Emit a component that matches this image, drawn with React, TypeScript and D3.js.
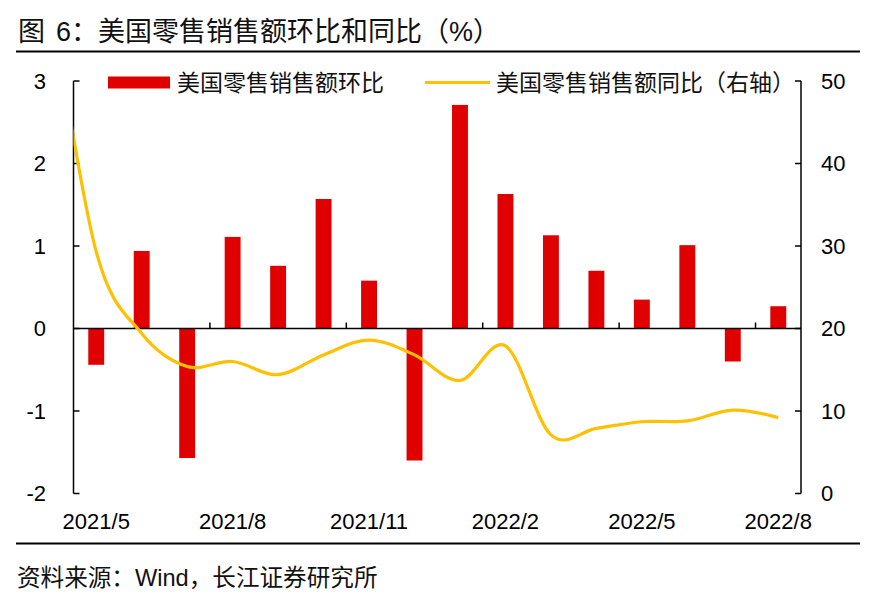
import React, { useEffect, useRef } from 'react';
import * as d3 from 'd3';

const months = [
  '2021/5', '2021/6', '2021/7', '2021/8', '2021/9', '2021/10', '2021/11', '2021/12',
  '2022/1', '2022/2', '2022/3', '2022/4', '2022/5', '2022/6', '2022/7', '2022/8',
];
// 环比 (%), left axis
const momValues = [-0.44, 0.94, -1.57, 1.11, 0.76, 1.57, 0.58, -1.6, 2.71, 1.63, 1.13, 0.7, 0.35, 1.01, -0.4, 0.27];
// 同比 (%), right axis; starts one month earlier, only its tail shows at the left edge
const yoyMonths = ['2021/4', ...months];
const yoyValues = [60, 29.3, 19.4, 15.4, 16.0, 14.4, 16.8, 18.6, 16.8, 13.7, 17.9, 7.1, 7.9, 8.7, 8.8, 10.1, 9.2];

const leftTicks = [-2, -1, 0, 1, 2, 3];
const rightTicks = [0, 10, 20, 30, 40, 50];
const labelMonths = ['2021/5', '2021/8', '2021/11', '2022/2', '2022/5', '2022/8'];

const W = 878;
const H = 607;
const FONT = "'Liberation Sans', Arial, 'Noto Sans CJK SC', sans-serif";

const App: React.FC = () => {
  const svgRef = useRef<SVGSVGElement>(null);

  useEffect(() => {
    if (!svgRef.current) return;
    const svg = d3.select(svgRef.current);
    svg.selectAll('*').remove();

    const plot = { left: 73.5, right: 801, top: 81, bottom: 493.5 };

    const x = d3.scaleBand<string>()
      .domain(months)
      .range([plot.left, plot.right])
      .paddingInner(0.65)
      .paddingOuter(0.325);
    const step = x.step();
    const xCenter = (m: string) => {
      const i = months.indexOf(m);
      // months outside the axis (2021/4) sit one step before the first one
      return i >= 0 ? (x(m) as number) + x.bandwidth() / 2 : (x(months[0]) as number) + x.bandwidth() / 2 - step;
    };

    const yL = d3.scaleLinear().domain([-2, 3]).range([plot.bottom, plot.top]);
    const yR = d3.scaleLinear().domain([0, 50]).range([plot.bottom, plot.top]);

    svg.attr('width', W).attr('height', H).style('font-family', FONT);
    svg.append('rect').attr('width', W).attr('height', H).attr('fill', '#fff');

    // title and rules
    const title = svg.append('text')
      .attr('x', 18)
      .attr('y', 31.5)
      .attr('dy', '0.36em')
      .style('font-size', '27px')
      .attr('fill', '#111');
    title.append('tspan').text('图');
    title.append('tspan').attr('x', 56).text('6：美国零售销售额环比和同比（%）');

    svg.append('line').attr('x1', 16).attr('x2', 860).attr('y1', 51.5).attr('y2', 51.5)
      .attr('stroke', '#000').attr('stroke-width', 2);
    svg.append('line').attr('x1', 16).attr('x2', 860).attr('y1', 543.5).attr('y2', 543.5)
      .attr('stroke', '#000').attr('stroke-width', 2);

    svg.append('text')
      .attr('x', 17)
      .attr('y', 578)
      .attr('dy', '0.36em')
      .style('font-size', '23.6px')
      .attr('fill', '#111')
      .text('资料来源：Wind，长江证券研究所');

    const defs = svg.append('defs');
    defs.append('clipPath').attr('id', 'plot-clip')
      .append('rect')
      .attr('x', plot.left)
      .attr('y', plot.top)
      .attr('width', plot.right - plot.left)
      .attr('height', plot.bottom - plot.top);

    // bars
    svg.append('g')
      .selectAll('rect')
      .data(months)
      .join('rect')
      .attr('x', d => x(d) as number)
      .attr('width', x.bandwidth())
      .attr('y', (d, i) => Math.min(yL(momValues[i]), yL(0)))
      .attr('height', (d, i) => Math.abs(yL(momValues[i]) - yL(0)))
      .attr('fill', '#e00000');

    // axes
    const axisG = svg.append('g').attr('stroke', '#000').attr('stroke-width', 1.5);
    axisG.append('line').attr('x1', plot.left).attr('x2', plot.left).attr('y1', plot.top).attr('y2', plot.bottom);
    axisG.append('line').attr('x1', plot.right).attr('x2', plot.right).attr('y1', plot.top).attr('y2', plot.bottom);
    axisG.append('line').attr('x1', plot.left).attr('x2', plot.right).attr('y1', yL(0)).attr('y2', yL(0));

    leftTicks.forEach(t => {
      axisG.append('line').attr('x1', plot.left).attr('x2', plot.left + 6).attr('y1', yL(t)).attr('y2', yL(t));
    });
    rightTicks.forEach(t => {
      axisG.append('line').attr('x1', plot.right - 6).attr('x2', plot.right).attr('y1', yR(t)).attr('y2', yR(t));
    });
    // category ticks every 3 months, on the band boundaries
    months.forEach((m, i) => {
      if (i % 3 !== 0 || i === 0) return;
      const bx = (x(m) as number) - (step - x.bandwidth()) / 2;
      axisG.append('line').attr('x1', bx).attr('x2', bx).attr('y1', yL(0) - 6).attr('y2', yL(0));
    });

    const labelStyle = (sel: d3.Selection<SVGTextElement, any, any, any>) =>
      sel.style('font-size', '22px').attr('fill', '#000').attr('dy', '0.35em');

    svg.append('g').selectAll('text').data(leftTicks).join('text')
      .attr('x', 46).attr('y', d => yL(d)).attr('text-anchor', 'end')
      .text(d => String(d))
      .call(labelStyle);

    svg.append('g').selectAll('text').data(rightTicks).join('text')
      .attr('x', 821).attr('y', d => yR(d)).attr('text-anchor', 'start')
      .text(d => String(d))
      .call(labelStyle);

    svg.append('g').selectAll('text').data(labelMonths).join('text')
      .attr('x', d => xCenter(d)).attr('y', 529).attr('text-anchor', 'middle')
      .style('font-size', '22px').attr('fill', '#000')
      .text(d => d);

    // yoy line
    const line = d3.line<number>()
      .x((d, i) => xCenter(yoyMonths[i]))
      .y(d => yR(d))
      .curve(d3.curveCardinal.tension(0));

    svg.append('path')
      .datum(yoyValues)
      .attr('clip-path', 'url(#plot-clip)')
      .attr('d', line)
      .attr('fill', 'none')
      .attr('stroke', '#ffc000')
      .attr('stroke-width', 3.2);

    // legend
    const legend = svg.append('g').style('font-size', '23px');
    legend.append('rect').attr('x', 108).attr('y', 76.5).attr('width', 62).attr('height', 12).attr('fill', '#e00000');
    legend.append('text').attr('x', 177).attr('y', 82.5).attr('dy', '0.36em').attr('fill', '#111').text('美国零售销售额环比');
    legend.append('line').attr('x1', 425).attr('x2', 490).attr('y1', 82.5).attr('y2', 82.5)
      .attr('stroke', '#ffc000').attr('stroke-width', 3);
    legend.append('text').attr('x', 496).attr('y', 82.5).attr('dy', '0.36em').attr('fill', '#111').text('美国零售销售额同比（右轴）');
  }, []);

  return (
    <svg
      ref={svgRef}
      width={W}
      height={H}
      style={{ position: 'absolute', left: 0, top: 0, display: 'block' }}
    />
  );
};

export default App;
